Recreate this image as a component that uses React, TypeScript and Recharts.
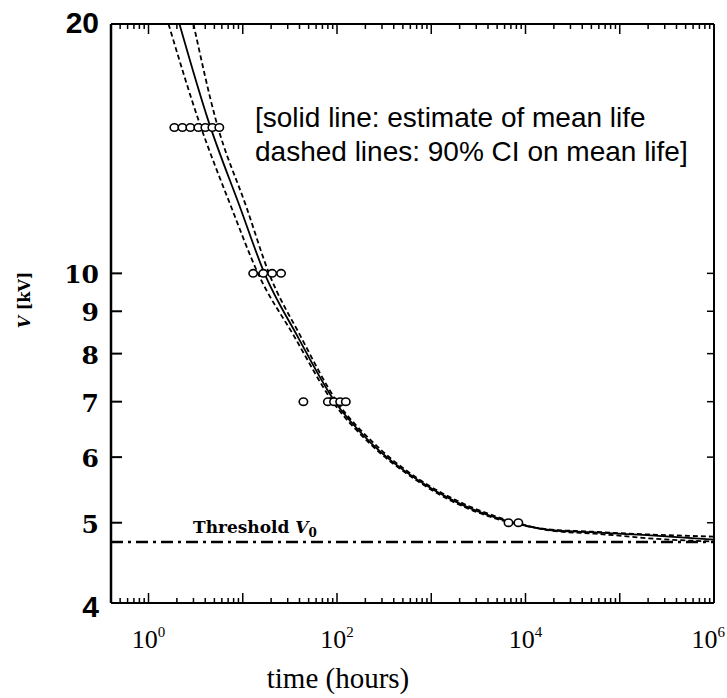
import React from 'react';
import { ComposedChart, Line, Scatter, XAxis, YAxis, ReferenceLine } from 'recharts';

// ---- data ----
const meanT = [2.13, 4.3, 9.4, 17, 38, 95, 230, 720, 1700, 7400, 18000, 49000, 195000, 1000000];
const meanV = [20, 15.3, 12, 10, 8.4, 7, 6.24, 5.63, 5.32, 5.0, 4.9, 4.87, 4.83, 4.77];
const lowerT = [1.63, 3.4, 7.6, 14.5, 35, 90, 220, 690, 1600, 7000, 17000, 45000, 200000, 1000000];
const lowerV = [20, 15.3, 12, 10, 8.4, 7, 6.24, 5.63, 5.32, 5.0, 4.91, 4.88, 4.84, 4.81];
const upperT = [3.0, 5.2, 11, 19, 41, 100, 245, 760, 1850, 8000, 19000, 55000, 250000, 1000000];
const upperV = [20, 15.3, 12, 10, 8.4, 7, 6.24, 5.63, 5.32, 5.0, 4.89, 4.85, 4.78, 4.745];

const obsV15T = [1.88, 2.29, 2.78, 3.38, 4.01, 4.76, 5.64];
const obsV10T = [12.9, 16.5, 20.5, 25.5];
const obsV7T = [44, 80, 93, 108, 124];
const obsV5T = [6600, 8400];
const obsLevels = [15, 10, 7, 5];

const thresholdV0 = 4.74;

const xDomain = [0.4, 1000000];
const yDomain = [4, 20];
const xDecadeBases = [0.1, 1, 10, 100, 1000, 10000, 100000, 1000000];
const xMantissas = [1, 2, 3, 4, 5, 6, 7, 8, 9];
const xLabelDecades = [1, 100, 10000, 1000000];
const xLabelExponents = ['0', '2', '4', '6'];
const yTicks = [4, 5, 6, 7, 8, 9, 10, 20];
const yTickMarks = [5, 6, 7, 8, 9, 10];
const yTickLabels = ['4', '5', '6', '7', '8', '9', '10', '20'];

const annotationLines = ['[solid line: estimate of mean life', 'dashed lines: 90% CI on mean life]'];

const CHART_W = 727;
const CHART_H = 698;

// ---- built tables ----
const zip = (ts: number[], vs: number[]) => ts.map((t, i) => ({ t, v: vs[i] }));
const meanData = zip(meanT, meanV);
const lowerData = zip(lowerT, lowerV);
const upperData = zip(upperT, upperV);
const obsSets = [obsV15T, obsV10T, obsV7T, obsV5T].map((ts, i) => ts.map((t) => ({ t, v: obsLevels[i] })));

const xTicks = xDecadeBases
  .flatMap((d) => xMantissas.map((m) => Number((m * d).toPrecision(6))))
  .filter((v) => v > xDomain[0] && v <= xDomain[1]);

const isDecade = (v: number) => Math.abs(Math.log10(v) - Math.round(Math.log10(v))) < 1e-9;

const BottomTick = (props: any) => {
  const { x, y, payload } = props;
  const v = payload.value;
  const dec = isDecade(v);
  const li = xLabelDecades.findIndex((d) => Math.abs(d - v) / d < 1e-9);
  const nearEdge = x + 20 > CHART_W;
  return (
    <g>
      <line x1={x} x2={x} y1={y} y2={y - (dec ? 10 : 5)} stroke="#000" strokeWidth={1.5} />
      {li >= 0 && (
        <text
          x={nearEdge ? CHART_W - 2 : x}
          y={y + 45}
          textAnchor={nearEdge ? 'end' : 'middle'}
          fontFamily="'Liberation Serif', serif"
          fontSize={26}
          fill="#000"
        >
          10
          <tspan dy={-11} fontSize={15}>
            {xLabelExponents[li]}
          </tspan>
        </text>
      )}
    </g>
  );
};

const TopTick = (props: any) => {
  const { x, y, payload } = props;
  const dec = isDecade(payload.value);
  return <line x1={x} x2={x} y1={y} y2={y + (dec ? 10 : 5)} stroke="#000" strokeWidth={1.5} />;
};

const LeftTick = (props: any) => {
  const { x, y, payload } = props;
  const v = payload.value;
  const i = yTicks.indexOf(v);
  const corner = v === 20 || v === 4;
  return (
    <g>
      {yTickMarks.includes(v) && <line x1={x} x2={x + 11} y1={y} y2={y} stroke="#000" strokeWidth={2} />}
      <text
        x={x - 12}
        y={y + (v === 4 ? 14 : v === 20 ? 9 : 10)}
        textAnchor="end"
        fontFamily={corner ? "'Liberation Sans', Arial, sans-serif" : "'DejaVu Serif', serif"}
        fontWeight="bold"
        fontSize={corner ? 30 : 25}
        fill="#000"
      >
        {yTickLabels[i]}
      </text>
    </g>
  );
};

const RightTick = (props: any) => {
  const { x, y, payload } = props;
  if (!yTickMarks.includes(payload.value)) return <g />;
  return <line x1={x} x2={x - 7} y1={y} y2={y} stroke="#000" strokeWidth={1.5} />;
};

const OpenCircle = (props: any) => (
  <ellipse cx={props.cx} cy={props.cy} rx={4.2} ry={3.7} fill="#fff" stroke="#000" strokeWidth={1.6} />
);

const XLabel = () => (
  <text x={338} y={688} textAnchor="middle" fontFamily="'Liberation Serif', serif" fontSize={29} fill="#000">
    time (hours)
  </text>
);

const YLabel = () => (
  <text
    x={24}
    y={300}
    transform="rotate(-90 24 300)"
    textAnchor="middle"
    dominantBaseline="central"
    fontFamily="'DejaVu Serif', serif"
    fontWeight="bold"
    fontSize={16}
    fill="#000"
  >
    <tspan fontStyle="italic">V</tspan> [kV]
  </text>
);

const ThresholdLabel = (props: any) => {
  const vb = props.viewBox || { x: 111, y: 542 };
  return (
    <text x={vb.x + 82} y={vb.y - 9} fontFamily="'DejaVu Serif', serif" fontWeight="bold" fontSize={17} fill="#000">
      Threshold{' '}
      <tspan fontStyle="italic">V</tspan>
      <tspan fontSize={12} dy={4}>
        0
      </tspan>
    </text>
  );
};

export default function App() {
  return (
    <div style={{ position: 'absolute', left: 0, top: 0, width: CHART_W, height: CHART_H, background: '#fff' }}>
      <ComposedChart width={CHART_W} height={CHART_H} margin={{ top: 23, right: 12, bottom: 0, left: 0 }}>
        <XAxis
          dataKey="t"
          type="number"
          scale="log"
          domain={xDomain}
          allowDataOverflow
          ticks={xTicks}
          interval={0}
          tick={<BottomTick />}
          tickLine={false}
          tickSize={0}
          tickMargin={0}
          height={95}
          axisLine={{ stroke: '#000', strokeWidth: 2 }}
          label={<XLabel />}
        />
        <XAxis
          xAxisId="top"
          orientation="top"
          dataKey="t"
          type="number"
          scale="log"
          domain={xDomain}
          allowDataOverflow
          ticks={xTicks}
          interval={0}
          tick={<TopTick />}
          tickLine={false}
          tickSize={0}
          tickMargin={0}
          height={1}
          axisLine={{ stroke: '#000', strokeWidth: 2 }}
        />
        <YAxis
          dataKey="v"
          type="number"
          scale="log"
          domain={yDomain}
          allowDataOverflow
          ticks={yTicks}
          interval={0}
          tick={<LeftTick />}
          tickLine={false}
          tickSize={0}
          tickMargin={0}
          width={111}
          axisLine={{ stroke: '#000', strokeWidth: 2.5 }}
          label={<YLabel />}
        />
        <YAxis
          yAxisId="right"
          orientation="right"
          dataKey="v"
          type="number"
          scale="log"
          domain={yDomain}
          allowDataOverflow
          ticks={yTicks}
          interval={0}
          tick={<RightTick />}
          tickLine={false}
          tickSize={0}
          tickMargin={0}
          width={1}
          axisLine={{ stroke: '#000', strokeWidth: 2 }}
        />
        <ReferenceLine
          y={thresholdV0}
          stroke="#000"
          strokeWidth={2.5}
          strokeDasharray="12 5 3 5"
          label={<ThresholdLabel />}
        />
        {obsSets.map((d, i) => (
          <Scatter key={i} data={d} shape={<OpenCircle />} isAnimationActive={false} />
        ))}
        <Line data={lowerData} dataKey="v" type="monotone" stroke="#000" strokeWidth={1.8} strokeDasharray="5 3" dot={false} isAnimationActive={false} />
        <Line data={upperData} dataKey="v" type="monotone" stroke="#000" strokeWidth={1.8} strokeDasharray="5 3" dot={false} isAnimationActive={false} />
        <Line data={meanData} dataKey="v" type="monotone" stroke="#000" strokeWidth={1.8} dot={false} isAnimationActive={false} />
        <Line
          data={meanData}
          dataKey="v"
          xAxisId="top"
          yAxisId="right"
          stroke="none"
          dot={false}
          activeDot={false}
          legendType="none"
          isAnimationActive={false}
        />
      </ComposedChart>
      <div
        style={{
          position: 'absolute',
          left: 255,
          top: 101,
          fontFamily: "'Liberation Sans', Arial, sans-serif",
          fontSize: 28,
          lineHeight: '34px',
          whiteSpace: 'pre',
          color: '#000',
        }}
      >
        {annotationLines.map((l, i) => (
          <div key={i}>{l}</div>
        ))}
      </div>
    </div>
  );
}
